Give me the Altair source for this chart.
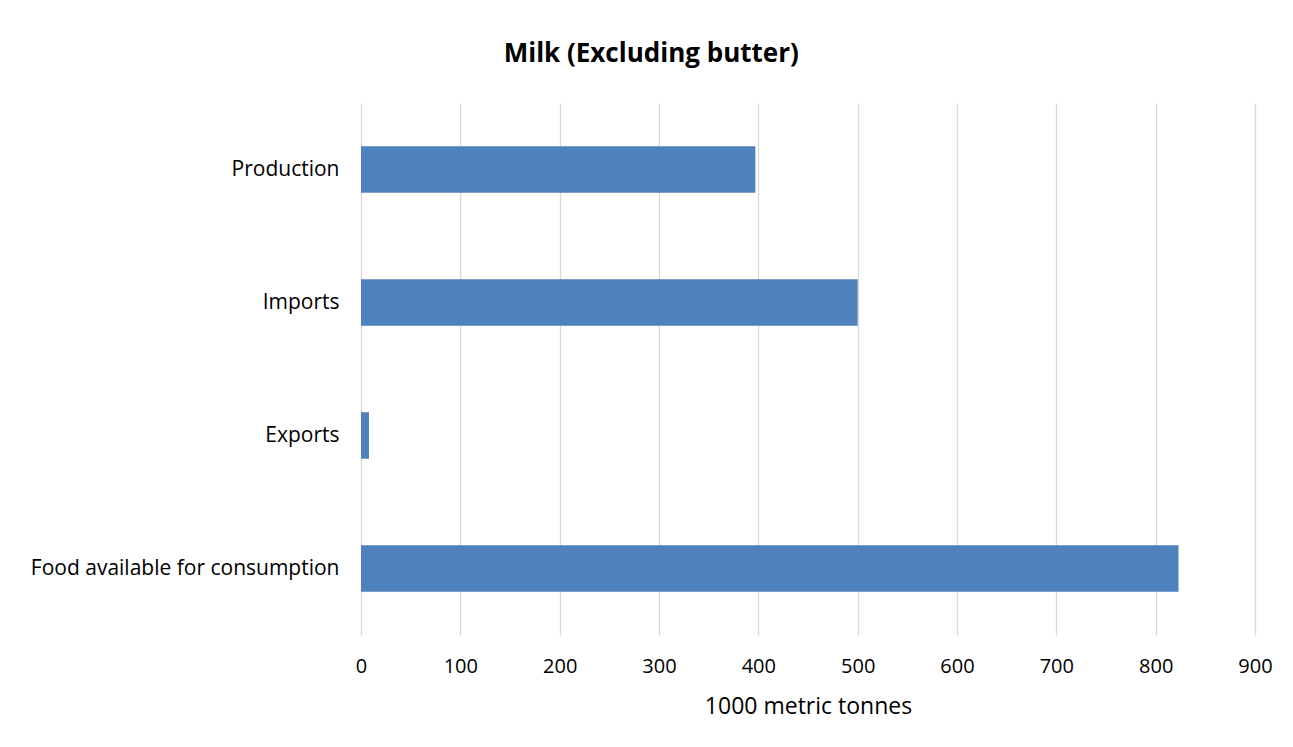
import altair as alt
import pandas as pd

categories = ["Production", "Imports", "Exports", "Food available for consumption"]
values = [397, 500, 8, 823]
x_ticks = [0, 100, 200, 300, 400, 500, 600, 700, 800, 900]

df = pd.DataFrame({"category": categories, "value": values})

FONT = "Open Sans"

chart = alt.Chart(df).mark_bar(color="#4f81bd").encode(
    x=alt.X("value:Q",
            scale=alt.Scale(domain=[0, 900], nice=False),
            axis=alt.Axis(values=x_ticks, title="1000 metric tonnes", domain=False, ticks=False,
                          grid=True, gridColor="#d9d9d9", gridWidth=1.3, labelFlush=False,
                          labelFontSize=20, labelColor="#000000", labelPadding=21,
                          titleFontSize=23, titleFontWeight="normal", titleColor="#000000",
                          titlePadding=19, labelFont=FONT, titleFont=FONT)),
    y=alt.Y("category:N", sort=categories,
            scale=alt.Scale(paddingInner=0.65, paddingOuter=0.325),
            axis=alt.Axis(title=None, domain=False, ticks=False, grid=False,
                          labelFontSize=21, labelColor="#000000", labelPadding=22,
                          labelFont=FONT, labelLimit=500)),
).properties(
    width=894,
    height=532,
    title=alt.TitleParams("Milk (Excluding butter)", fontSize=26, fontWeight="bold", font=FONT,
                          color="#000000", anchor="middle", frame="bounds", offset=36),
    padding={"left": 361, "top": 103, "right": 38, "bottom": 112},
    autosize=alt.AutoSizeParams(type="none"),
).configure(background="white", view=alt.ViewConfig(stroke=None))

chart.save("out.html", embed_options={"renderer": "svg", "actions": False})
